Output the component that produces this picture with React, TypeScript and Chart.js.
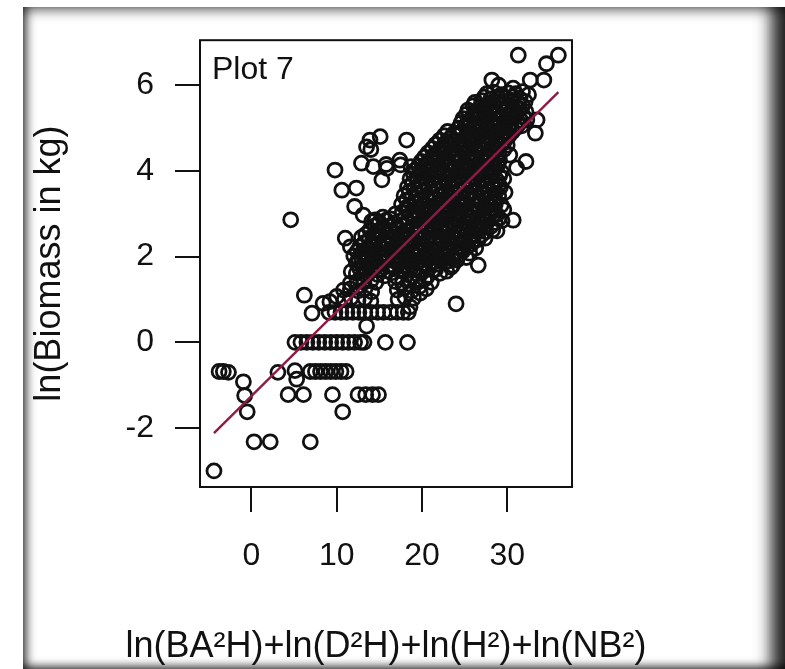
import React, { useEffect, useRef } from 'react';
import { Chart, registerables } from 'chart.js';

Chart.register(...registerables);

const FONT = '"Liberation Sans", Arial, Helvetica, sans-serif';

const xTickValues = [0, 10, 20, 30];
const yTickValues = [-2, 0, 2, 4, 6];
const xRange = [-6.04, 37.6];
const yRange = [-3.375, 7.05];
const panelLabel = 'Plot 7';
const xTitle = 'ln(BA²H)+ln(D²H)+ln(H²)+ln(NB²)';
const yTitle = 'ln(Biomass in kg)';

// fitted line end points
const fitLine: number[][] = [[-4.4, -2.12], [36.0, 5.84]];

// isolated low points
const lowPoints: number[][] = [
  [-4.4, -3.0], [0.3, -2.32], [2.2, -2.32], [6.9, -2.32], [-0.5, -1.62], [-0.8, -1.24],
  [-0.95, -0.92], [-3.8, -0.68], [-3.3, -0.68], [-2.7, -0.7], [3.1, -0.7], [5.1, -0.66],
  [5.3, -0.86], [10.7, -1.62], [4.3, -1.22], [6.1, -1.22], [9.5, -1.22], [12.5, -1.22],
  [13.4, -1.22], [14.2, -1.22], [14.9, -1.22],
];

const rowNegative: number[][] = [
  [6.9, -0.68], [7.5, -0.68], [8.1, -0.68], [8.7, -0.68], [9.3, -0.68], [9.9, -0.68],
  [10.5, -0.68], [11.1, -0.68],
];

const rowZero: number[][] = [
  [5.1, 0], [5.8, 0], [6.5, 0], [7.2, 0], [7.9, 0], [8.6, 0], [9.3, 0], [10.0, 0],
  [10.7, 0], [11.4, 0], [12.1, 0], [12.8, 0], [13.2, 0], [15.7, 0], [18.3, 0],
];

const rowLow: number[][] = [
  [9.1, 0.7], [9.8, 0.7], [10.5, 0.7], [11.2, 0.7], [11.9, 0.7], [12.6, 0.7], [13.3, 0.7],
  [14.0, 0.7], [14.8, 0.7], [15.5, 0.7], [16.3, 0.7], [17.1, 0.7], [17.8, 0.7], [18.4, 0.7],
  [13.5, 0.38], [7.1, 0.68], [6.2, 1.1], [8.4, 0.91], [18.6, 0.83], [24.0, 0.9], [4.6, 2.86],
];

const leftCluster: number[][] = [
  [9.8, 4.02], [10.6, 3.55], [12.3, 3.6], [12.1, 3.17], [13.1, 2.97], [12.9, 4.18],
  [14.3, 4.1], [15.3, 3.79], [15.9, 4.06], [17.4, 4.25], [15.8, 4.15], [18.7, 4.1],
  [13.5, 4.56], [14.0, 4.5], [13.9, 4.72], [15.1, 4.8], [18.2, 4.72], [11.0, 2.43],
  [11.6, 2.23], [13.9, 2.62], [14.5, 2.86], [17.5, 4.14],
];

const bandLower: number[][] = [
  [9.2, 0.95], [10.0, 1.07], [10.9, 1.0], [11.7, 1.04], [12.5, 0.98], [13.3, 1.03], [14.0, 0.96],
  [17.2, 1.0], [18.0, 1.05], [19.0, 1.03], [19.8, 1.15],
  [10.8, 1.22], [11.6, 1.25], [12.5, 1.2], [13.3, 1.24], [14.1, 1.18], [17.1, 1.22], [17.9, 1.27],
  [18.8, 1.2], [19.7, 1.3], [20.5, 1.25],
  [11.6, 1.38], [12.4, 1.42], [13.2, 1.4], [14.0, 1.44], [14.6, 1.4], [16.9, 1.42], [17.7, 1.38],
  [18.6, 1.45], [19.5, 1.4], [20.3, 1.47], [21.1, 1.4],
  [11.7, 1.65], [12.3, 1.61], [13.1, 1.6], [14.0, 1.66], [14.8, 1.58], [15.6, 1.55], [16.4, 1.62],
  [17.0, 1.53], [17.9, 1.64], [18.6, 1.69], [19.4, 1.6], [20.6, 1.53], [21.3, 1.69], [22.1, 1.61],
  [22.9, 1.66], [23.4, 1.75], [26.6, 1.8],
  [12.3, 1.85], [13.1, 1.77], [13.9, 1.83], [14.7, 1.8], [15.5, 1.86], [16.3, 1.78], [17.2, 1.84],
  [18.0, 1.8], [18.8, 1.88], [19.4, 1.85], [20.3, 1.79], [21.1, 1.86], [21.9, 1.82], [22.8, 1.88],
  [23.6, 1.8], [24.1, 1.92],
  [12.0, 2.02], [12.9, 1.98], [13.5, 2.0], [14.4, 2.05], [15.2, 1.97], [16.0, 2.04], [16.9, 2.0],
  [17.7, 2.06], [18.5, 1.98], [19.3, 2.03], [20.2, 2.0], [21.0, 2.07], [21.8, 1.99], [22.7, 2.04],
  [23.5, 2.0], [24.4, 2.06], [25.2, 1.98], [25.6, 2.08],
  [12.7, 2.23], [13.6, 2.18], [14.4, 2.24], [15.3, 2.2], [16.1, 2.26], [16.9, 2.18], [17.8, 2.22],
  [18.6, 2.27], [19.5, 2.2], [20.3, 2.24], [21.2, 2.18], [22.0, 2.25], [22.9, 2.2], [23.7, 2.26],
  [24.6, 2.19], [25.4, 2.24], [26.3, 2.2], [26.0, 2.35],
  [12.9, 2.45], [13.8, 2.4], [14.6, 2.46], [15.5, 2.38], [16.3, 2.44], [17.2, 2.4], [18.0, 2.47],
  [18.9, 2.41], [19.7, 2.45], [20.6, 2.38], [21.4, 2.44], [22.3, 2.4], [23.1, 2.47], [24.0, 2.42],
  [24.8, 2.38], [25.7, 2.45], [26.6, 2.4], [27.4, 2.43],
];

const bandMiddle: number[][] = [
  [14.7, 2.6], [15.6, 2.65], [16.4, 2.58], [17.3, 2.63], [18.1, 2.6], [19.0, 2.66], [19.8, 2.58],
  [20.7, 2.62], [21.5, 2.67], [22.4, 2.6], [23.2, 2.64], [24.1, 2.58], [24.9, 2.63], [25.8, 2.6],
  [26.6, 2.66], [27.5, 2.58], [28.3, 2.62], [28.8, 2.6],
  [14.1, 2.82], [15.0, 2.8], [15.8, 2.85], [16.7, 2.78], [17.5, 2.83], [18.4, 2.8], [19.2, 2.86],
  [20.1, 2.78], [20.9, 2.83], [21.8, 2.8], [22.6, 2.86], [23.5, 2.79], [24.3, 2.84], [25.2, 2.8],
  [26.0, 2.85], [26.9, 2.78], [27.7, 2.82], [28.6, 2.8], [29.4, 2.84], [30.7, 2.85],
  [16.9, 3.0], [17.7, 3.04], [18.6, 2.98], [19.4, 3.03], [20.3, 3.0], [21.1, 3.06], [22.0, 2.98],
  [22.8, 3.02], [23.7, 3.0], [24.5, 3.05], [25.4, 2.98], [26.2, 3.03], [27.1, 3.0], [27.9, 3.05],
  [28.8, 2.98], [29.6, 3.1],
  [17.6, 3.22], [18.4, 3.18], [19.3, 3.24], [20.1, 3.2], [21.0, 3.17], [21.8, 3.23], [22.7, 3.2],
  [23.5, 3.25], [24.4, 3.18], [25.2, 3.22], [26.1, 3.2], [26.9, 3.25], [27.8, 3.18], [28.6, 3.22],
  [29.3, 3.2],
  [17.9, 3.42], [18.8, 3.38], [19.6, 3.44], [20.5, 3.4], [21.3, 3.37], [22.2, 3.43], [23.0, 3.4],
  [23.9, 3.45], [24.7, 3.38], [25.6, 3.42], [26.4, 3.4], [27.3, 3.45], [28.1, 3.38], [29.0, 3.42],
  [29.75, 3.5],
  [18.3, 3.62], [19.1, 3.58], [20.0, 3.64], [20.8, 3.6], [21.7, 3.57], [22.5, 3.63], [23.4, 3.6],
  [24.2, 3.65], [25.1, 3.58], [25.9, 3.62], [26.8, 3.6], [27.6, 3.65], [28.5, 3.58], [29.2, 3.62],
  [18.6, 3.82], [19.5, 3.78], [20.3, 3.84], [21.2, 3.8], [22.0, 3.77], [22.9, 3.83], [23.7, 3.8],
  [24.6, 3.85], [25.4, 3.78], [26.3, 3.82], [27.1, 3.8], [28.0, 3.85], [28.8, 3.78], [29.6, 3.82],
];

const bandUpper: number[][] = [
  [19.2, 4.02], [20.0, 3.98], [20.9, 4.04], [21.7, 4.0], [22.6, 3.97], [23.4, 4.03], [24.3, 4.0],
  [25.1, 4.05], [26.0, 3.98], [26.8, 4.02], [27.7, 4.0], [28.5, 4.05], [29.3, 3.98], [31.1, 4.07],
  [19.9, 4.22], [20.7, 4.18], [21.6, 4.24], [22.4, 4.2], [23.3, 4.17], [24.1, 4.23], [25.0, 4.2],
  [25.8, 4.25], [26.7, 4.18], [27.5, 4.22], [28.4, 4.2], [29.1, 4.25], [30.3, 4.37], [32.2, 4.22],
  [20.7, 4.42], [21.5, 4.38], [22.4, 4.44], [23.2, 4.4], [24.1, 4.37], [24.9, 4.43], [25.8, 4.4],
  [26.6, 4.45], [27.5, 4.38], [28.3, 4.42], [29.0, 4.4],
  [21.6, 4.62], [22.5, 4.58], [23.3, 4.64], [24.2, 4.6], [25.0, 4.57], [25.9, 4.63], [26.7, 4.6],
  [27.6, 4.65], [28.4, 4.58], [29.3, 4.62], [30.0, 4.6],
  [22.6, 4.82], [23.4, 4.78], [24.3, 4.84], [25.1, 4.8], [26.0, 4.77], [26.8, 4.83], [27.7, 4.8],
  [28.5, 4.85], [29.4, 4.78], [30.2, 4.82], [33.3, 4.88],
  [24.3, 5.0], [25.1, 5.04], [26.0, 4.98], [26.8, 5.03], [27.7, 5.0], [28.5, 5.06], [29.4, 4.98],
  [30.2, 5.02], [31.0, 5.0], [31.7, 5.05],
];

const topPoints: number[][] = [
  [24.8, 5.22], [25.6, 5.18], [26.5, 5.24], [27.3, 5.2], [28.2, 5.17], [29.0, 5.23], [29.9, 5.2],
  [30.7, 5.25], [31.6, 5.18], [32.3, 5.19], [33.5, 5.19],
  [25.4, 5.42], [26.3, 5.38], [27.1, 5.44], [28.0, 5.4], [28.8, 5.37], [29.7, 5.43], [30.5, 5.4],
  [31.4, 5.45], [32.2, 5.38],
  [26.2, 5.6], [27.0, 5.64], [27.9, 5.58], [28.7, 5.62], [29.6, 5.6], [30.4, 5.65], [31.3, 5.58],
  [32.1, 5.62],
  [27.6, 5.8], [28.4, 5.84], [29.3, 5.78], [30.1, 5.82], [31.0, 5.8], [31.8, 5.85], [32.5, 5.78],
  [28.2, 6.12], [29.0, 6.0], [30.7, 5.93], [32.7, 6.12], [34.3, 6.12], [34.6, 6.5], [31.3, 6.7],
  [36.0, 6.7],
];

// additional points filling the dense core of the cloud
const coreLower: number[][] = [
  [12.7, 1.72], [13.5, 1.68], [14.4, 1.73], [15.2, 1.7], [16.0, 1.67], [16.8, 1.72], [17.6, 1.7],
  [18.3, 1.74], [19.0, 1.7], [19.9, 1.67], [20.8, 1.72], [21.6, 1.7],
  [12.6, 1.92], [13.4, 1.9], [14.3, 1.94], [15.1, 1.88], [15.9, 1.92], [16.7, 1.9], [17.5, 1.93],
  [18.3, 1.88], [19.0, 1.92], [19.8, 1.9], [20.7, 1.94], [21.5, 1.88], [22.4, 1.92], [23.2, 1.9],
  [12.4, 2.12], [13.2, 2.08], [14.0, 2.1], [14.9, 2.13], [15.7, 2.08], [16.5, 2.11], [17.3, 2.1],
  [18.1, 2.14], [18.9, 2.08], [19.8, 2.12], [20.6, 2.1], [21.4, 2.13], [22.3, 2.08], [23.1, 2.12],
  [24.0, 2.1], [24.8, 2.13],
  [13.2, 2.32], [14.0, 2.28], [14.9, 2.31], [15.7, 2.3], [16.5, 2.33], [17.4, 2.28], [18.2, 2.3],
  [19.0, 2.32], [19.9, 2.28], [20.7, 2.31], [21.5, 2.3], [22.4, 2.33], [23.3, 2.28], [24.1, 2.3],
  [25.0, 2.32], [25.8, 2.29],
  [13.4, 2.52], [14.2, 2.48], [15.1, 2.51], [15.9, 2.5], [16.8, 2.53], [17.6, 2.48], [18.5, 2.5],
  [19.3, 2.52], [20.2, 2.48], [21.0, 2.51], [21.9, 2.5], [22.7, 2.53], [23.6, 2.48], [24.4, 2.5],
  [25.3, 2.52], [26.1, 2.48], [27.0, 2.51],
  [14.5, 2.72], [15.4, 2.68], [16.2, 2.71], [17.1, 2.7], [17.9, 2.73], [18.8, 2.68], [19.6, 2.7],
  [20.5, 2.72], [21.3, 2.68], [22.2, 2.71], [23.0, 2.7], [23.9, 2.73], [24.7, 2.68], [25.6, 2.7],
  [26.4, 2.72], [27.3, 2.68], [28.1, 2.71],
  [15.4, 2.92], [16.3, 2.88], [18.0, 2.91], [18.9, 2.9], [19.7, 2.93], [20.6, 2.88], [21.4, 2.9],
  [22.3, 2.92], [23.1, 2.88], [24.0, 2.91], [24.8, 2.9], [25.7, 2.93], [26.5, 2.88], [27.4, 2.9],
  [28.2, 2.92], [29.0, 2.88],
];

const coreUpper: number[][] = [
  [18.2, 3.12], [19.0, 3.08], [19.9, 3.11], [20.7, 3.1], [21.6, 3.13], [22.4, 3.08], [23.3, 3.1],
  [24.1, 3.12], [25.0, 3.08], [25.8, 3.11], [26.7, 3.1], [27.5, 3.13], [28.4, 3.08],
  [18.2, 3.32], [19.1, 3.28], [19.9, 3.31], [20.8, 3.3], [21.6, 3.33], [22.5, 3.28], [23.3, 3.3],
  [24.2, 3.32], [25.0, 3.28], [25.9, 3.31], [26.7, 3.3], [27.6, 3.33], [28.4, 3.28],
  [18.5, 3.52], [19.3, 3.48], [20.2, 3.51], [21.0, 3.5], [21.9, 3.53], [22.7, 3.48], [23.6, 3.5],
  [24.4, 3.52], [25.3, 3.48], [26.1, 3.51], [27.0, 3.5], [27.8, 3.53], [28.6, 3.48],
  [18.9, 3.72], [19.7, 3.68], [20.6, 3.71], [21.4, 3.7], [22.3, 3.73], [23.1, 3.68], [24.0, 3.7],
  [24.8, 3.72], [25.7, 3.68], [26.5, 3.71], [27.4, 3.7], [28.2, 3.73], [29.0, 3.68],
  [19.0, 3.92], [19.8, 3.88], [20.7, 3.91], [21.5, 3.9], [22.4, 3.93], [23.2, 3.88], [24.1, 3.9],
  [24.9, 3.92], [25.8, 3.88], [26.6, 3.91], [27.5, 3.9], [28.3, 3.93], [29.1, 3.88],
  [19.6, 4.12], [20.4, 4.08], [21.3, 4.11], [22.1, 4.1], [23.0, 4.13], [23.8, 4.08], [24.7, 4.1],
  [25.5, 4.12], [26.4, 4.08], [27.2, 4.11], [28.1, 4.1], [28.9, 4.13],
  [20.3, 4.32], [21.1, 4.28], [22.0, 4.31], [22.8, 4.3], [23.7, 4.33], [24.5, 4.28], [25.4, 4.3],
  [26.2, 4.32], [27.1, 4.28], [27.9, 4.31], [28.7, 4.3],
  [21.2, 4.52], [22.0, 4.48], [22.9, 4.51], [23.7, 4.5], [24.6, 4.53], [25.4, 4.48], [26.3, 4.5],
  [27.1, 4.52], [28.0, 4.48], [28.8, 4.51], [29.6, 4.5],
  [22.1, 4.72], [22.9, 4.68], [23.8, 4.71], [24.6, 4.7], [25.5, 4.73], [26.3, 4.68], [27.2, 4.7],
  [28.0, 4.72], [28.9, 4.68], [29.7, 4.71],
  [23.0, 4.92], [23.8, 4.88], [24.7, 4.91], [25.5, 4.9], [26.4, 4.93], [27.2, 4.88], [28.1, 4.9],
  [28.9, 4.92], [29.8, 4.88], [30.6, 4.91],
  [24.6, 5.12], [25.4, 5.08], [26.3, 5.11], [27.1, 5.1], [28.0, 5.13], [28.8, 5.08], [29.7, 5.1],
  [30.5, 5.12], [31.3, 5.08],
  [25.2, 5.32], [26.0, 5.28], [26.9, 5.31], [27.7, 5.3], [28.6, 5.33], [29.4, 5.28], [30.3, 5.3],
  [31.1, 5.32], [31.9, 5.28],
  [26.0, 5.52], [26.8, 5.48], [27.6, 5.51], [28.5, 5.5], [29.3, 5.53], [30.2, 5.48], [31.0, 5.5],
  [31.8, 5.52],
  [27.3, 5.72], [28.1, 5.68], [29.0, 5.71], [29.8, 5.7], [30.7, 5.73], [31.5, 5.68],
];

const boxPlugin = {
  id: 'boxAndLabel',
  afterDraw(chart: any) {
    const { ctx, chartArea } = chart;
    const { left, top, right, bottom } = chartArea;
    ctx.save();
    ctx.strokeStyle = '#111';
    ctx.lineWidth = 2;
    ctx.strokeRect(left, top, right - left, bottom - top);
    ctx.fillStyle = '#111';
    ctx.font = `32px ${FONT}`;
    ctx.textBaseline = 'alphabetic';
    ctx.textAlign = 'left';
    ctx.fillText(panelLabel, left + 12, top + 39);
    // x axis title, centred under the plot box (drawn here so it is not squeezed to the box width)
    ctx.font = `36px ${FONT}`;
    ctx.textAlign = 'center';
    ctx.textBaseline = 'alphabetic';
    ctx.fillText(xTitle, (left + right) / 2, 657);
    ctx.restore();
  },
};

export default function App() {
  const ref = useRef<HTMLCanvasElement>(null);

  useEffect(() => {
    const toXY = (arr: number[][]) => arr.map(([x, y]) => ({ x, y }));
    const points = [
      ...lowPoints, ...rowNegative, ...rowZero, ...rowLow, ...leftCluster,
      ...bandLower, ...bandMiddle, ...bandUpper, ...topPoints, ...coreLower, ...coreUpper,
    ];
    const chart = new Chart(ref.current as HTMLCanvasElement, {
      type: 'scatter',
      data: {
        datasets: [
          {
            data: toXY(fitLine),
            showLine: true,
            borderColor: '#8e1a45',
            borderWidth: 2.4,
            pointRadius: 0,
            order: 0,
          } as any,
          {
            data: toXY(points),
            showLine: false,
            order: 1,
          } as any,
        ],
      },
      options: {
        animation: false,
        responsive: false,
        elements: {
          point: {
            pointStyle: 'circle',
            radius: 7,
            borderWidth: 2.8,
            borderColor: '#111',
            backgroundColor: 'rgba(0,0,0,0)',
          },
        },
        layout: { padding: { left: 0, right: 213, top: 40, bottom: 0 } },
        plugins: { legend: { display: false }, tooltip: { enabled: false } },
        scales: {
          x: {
            type: 'linear',
            min: xRange[0],
            max: xRange[1],
            afterBuildTicks: (s: any) => { s.ticks = xTickValues.map((v) => ({ value: v })); },
            afterFit: (s: any) => { s.height = 182; },
            ticks: { font: { family: FONT, size: 32 }, color: '#111', padding: 25, maxRotation: 0 },
            grid: { drawOnChartArea: false, drawTicks: true, tickLength: 25, color: '#111', lineWidth: 2 },
            border: { display: false },
            title: { display: false },
          },
          y: {
            type: 'linear',
            min: yRange[0],
            max: yRange[1],
            afterBuildTicks: (s: any) => { s.ticks = yTickValues.map((v) => ({ value: v })); },
            afterFit: (s: any) => { s.width = 200; },
            ticks: { font: { family: FONT, size: 32 }, color: '#111', padding: 21 },
            grid: { drawOnChartArea: false, drawTicks: true, tickLength: 25, color: '#111', lineWidth: 2 },
            border: { display: false },
            title: { display: true, text: yTitle, color: '#111', font: { family: FONT, size: 36 }, padding: { top: 28, bottom: 0 } },
          },
        },
      } as any,
      plugins: [boxPlugin],
    });
    return () => chart.destroy();
  }, []);

  return (
    <div style={{ position: 'fixed', left: 0, top: 0, width: 785, height: 669, background: '#fff', overflow: 'hidden' }}>
      <div
        style={{
          position: 'absolute', left: 23, top: 7, width: 762, height: 662, background: '#fff',
          boxShadow: 'inset 10px 0 10px -6px rgba(0,0,0,0.7), inset -24px 0 16px -10px rgba(0,0,0,0.85), inset 0 12px 12px -8px rgba(0,0,0,0.5), inset 0 -8px 8px -5px rgba(0,0,0,0.7)',
        }}
      />
      <canvas ref={ref} width={785} height={669} style={{ position: 'absolute', left: 0, top: 0, width: 785, height: 669 }} />
    </div>
  );
}
